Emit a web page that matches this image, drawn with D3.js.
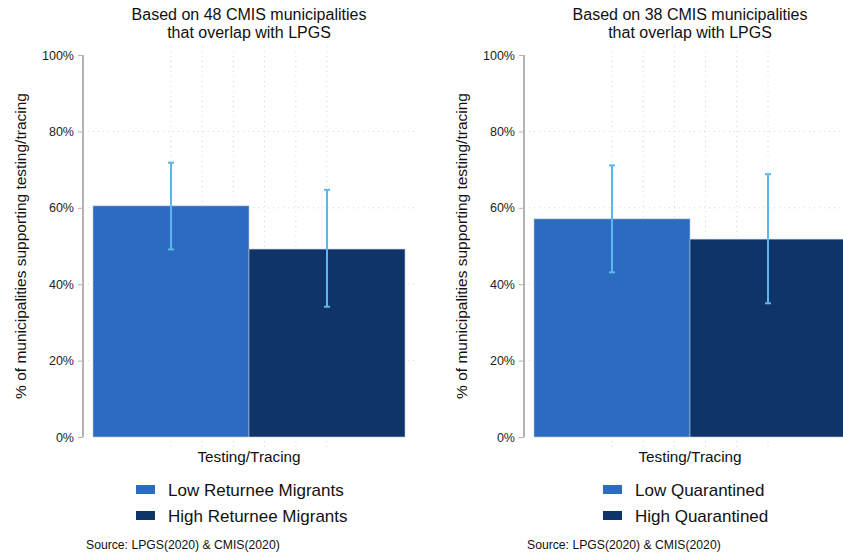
<!DOCTYPE html>
<html>
<head>
<meta charset="utf-8">
<script src="https://cdn.jsdelivr.net/npm/d3@7"></script>
<style>
  body { margin: 0; background: #fff; }
  svg { font-family: "Liberation Sans", Arial, Helvetica, sans-serif; }
  .grid { stroke: #d4d4d4; stroke-width: 1; stroke-dasharray: 1,4; }
</style>
</head>
<body>
<script>
// panel data
var titles = [
  ["Based on 48 CMIS municipalities", "that overlap with LPGS"],
  ["Based on 38 CMIS municipalities", "that overlap with LPGS"]
];
var groupLabels = [
  ["Low Returnee Migrants", "High Returnee Migrants"],
  ["Low Quarantined", "High Quarantined"]
];
var means = [[0.605, 0.492], [0.571, 0.518]];
var lower = [[0.491, 0.341], [0.431, 0.350]];
var upper = [[0.718, 0.647], [0.711, 0.688]];
var yTicks = [0, 0.2, 0.4, 0.6, 0.8, 1];
var xGrid = [0, 1, 2, 3, 4, 5];
var category = "Testing/Tracing";
var yLabel = "% of municipalities supporting testing/tracing";
var source = "Source: LPGS(2020) & CMIS(2020)";
var colors = ["#2b6cc1", "#0f3469"];
var errColor = "#5cb6ec";

var width = 843, height = 556;

var svg = d3.select("body")
  .append("svg")
  .attr("width", width)
  .attr("height", height);

//draw each panel, shifted to the right
titles.forEach(function(t, p){
  var g = svg.append("g")
    .attr("transform", "translate(" + (p * 441) + ",0)");

  var y = d3.scaleLinear().domain([0, 1]).range([437, 55]);
  var x = d3.scaleBand().domain([0, 1]).range([93, 405]).padding(0);
  //dotted vertical grid between the two bar centres
  var xg = d3.scaleLinear().domain([0, 5])
    .range([x(0) + x.bandwidth() / 2, x(1) + x.bandwidth() / 2]);

  //horizontal grid
  g.selectAll(".hgrid")
    .data(yTicks.filter(function(d){ return d > 0 && d < 1; }))
    .enter().append("line")
    .attr("class", "grid")
    .attr("x1", 88).attr("x2", 416)
    .attr("y1", function(d){ return y(d); })
    .attr("y2", function(d){ return y(d); });

  g.selectAll(".vgrid")
    .data(xGrid)
    .enter().append("line")
    .attr("class", "grid")
    .attr("x1", function(d){ return xg(d); })
    .attr("x2", function(d){ return xg(d); })
    .attr("y1", 46).attr("y2", 448);

  //bars
  g.selectAll(".bar")
    .data(means[p])
    .enter().append("rect")
    .attr("x", function(d, i){ return x(i); })
    .attr("width", x.bandwidth())
    .attr("y", function(d){ return y(d); })
    .attr("height", function(d){ return y(0) - y(d); })
    .attr("fill", function(d, i){ return colors[i]; })
    .attr("stroke", "#b9c6d8")
    .attr("stroke-width", 0.6);

  //error bars
  var eb = g.selectAll(".err")
    .data(means[p])
    .enter().append("g")
    .attr("stroke", errColor)
    .attr("stroke-width", 2);
  eb.append("line")
    .attr("x1", function(d, i){ return x(i) + x.bandwidth() / 2; })
    .attr("x2", function(d, i){ return x(i) + x.bandwidth() / 2; })
    .attr("y1", function(d, i){ return y(upper[p][i]); })
    .attr("y2", function(d, i){ return y(lower[p][i]); });
  [upper[p], lower[p]].forEach(function(arr){
    eb.append("line")
      .attr("x1", function(d, i){ return x(i) + x.bandwidth() / 2 - 3; })
      .attr("x2", function(d, i){ return x(i) + x.bandwidth() / 2 + 3; })
      .attr("y1", function(d, i){ return y(arr[i]); })
      .attr("y2", function(d, i){ return y(arr[i]); });
  });

  //y axis
  var yAxis = g.append("g")
    .attr("transform", "translate(83,0)")
    .call(d3.axisLeft(y).tickValues(yTicks).tickFormat(d3.format(".0%")).tickSize(5).tickPadding(4));
  yAxis.select(".domain").attr("stroke", "#b3b3b3").attr("stroke-width", 2)
    .attr("d", "M0," + y(1) + "V" + y(0));
  yAxis.selectAll(".tick line").attr("stroke", "#b3b3b3");
  yAxis.selectAll("text").attr("font-size", 12.5).attr("fill", "#222")
    .attr("font-family", "Liberation Sans, Arial, sans-serif");

  //y label
  g.append("text")
    .attr("transform", "translate(26,246) rotate(-90)")
    .attr("text-anchor", "middle")
    .attr("font-size", 15.5)
    .attr("fill", "#111")
    .text(yLabel);

  //title
  g.selectAll(".title")
    .data(t)
    .enter().append("text")
    .attr("x", 249)
    .attr("y", function(d, i){ return 20 + i * 18; })
    .attr("text-anchor", "middle")
    .attr("font-size", 16)
    .attr("fill", "#111")
    .text(function(d){ return d; });

  //category label
  g.append("text")
    .attr("x", 249).attr("y", 462)
    .attr("text-anchor", "middle")
    .attr("font-size", 15.3)
    .attr("fill", "#111")
    .text(category);

  //legend
  var leg = g.selectAll(".leg")
    .data(groupLabels[p])
    .enter().append("g")
    .attr("transform", function(d, i){ return "translate(0," + (i * 26) + ")"; });
  var legX = p === 0 ? 136 : 162;
  leg.append("rect")
    .attr("x", legX).attr("y", 485)
    .attr("width", 19).attr("height", 9)
    .attr("fill", function(d, i){ return colors[i]; });
  leg.append("text")
    .attr("x", legX + 32).attr("y", 496)
    .attr("font-size", 17)
    .attr("fill", "#111")
    .text(function(d){ return d; });

  //source
  g.append("text")
    .attr("x", 86).attr("y", 549)
    .attr("font-size", 12.2)
    .attr("fill", "#111")
    .text(source);
});
</script>
</body>
</html>
